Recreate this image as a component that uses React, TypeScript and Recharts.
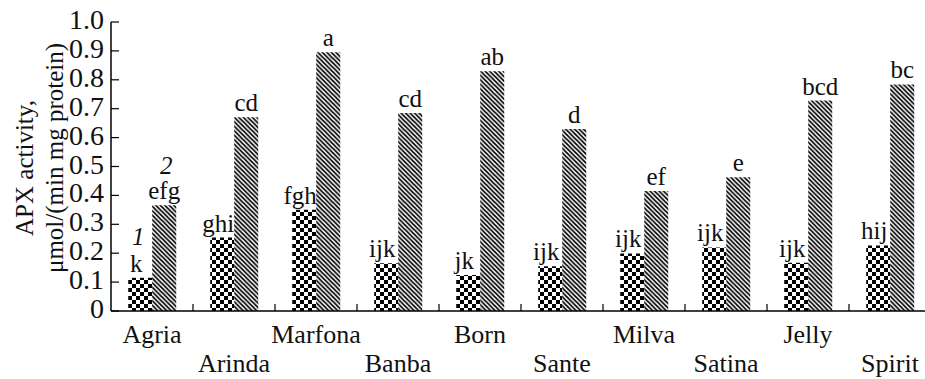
import React from "react";
import { BarChart, Bar, XAxis, YAxis, LabelList, Label } from "recharts";

const cultivars = [
  "Agria",
  "Arinda",
  "Marfona",
  "Banba",
  "Born",
  "Sante",
  "Milva",
  "Satina",
  "Jelly",
  "Spirit",
];
const series1 = [0.115, 0.254, 0.35, 0.165, 0.125, 0.155, 0.199, 0.22, 0.167, 0.227];
const series2 = [0.366, 0.67, 0.895, 0.685, 0.83, 0.63, 0.415, 0.463, 0.728, 0.784];
const letters1 = ["k", "ghi", "fgh", "ijk", "jk", "ijk", "ijk", "ijk", "ijk", "hij"];
const letters2 = ["efg", "cd", "a", "cd", "ab", "d", "ef", "e", "bcd", "bc"];
const yTicks = [0, 0.1, 0.2, 0.3, 0.4, 0.5, 0.6, 0.7, 0.8, 0.9, 1.0];

const data = cultivars.map((name, i) => ({
  name,
  s1: series1[i],
  s2: series2[i],
}));

const W = 931;
const H = 379;
const AXIS_W = 111;
const TOP = 22;
const X_H = 68;
const BAND = (W - AXIS_W) / cultivars.length;
const SERIF = { fontFamily: "Liberation Serif, Times New Roman, Tinos, DejaVu Serif, serif" };

function XTick(props: any) {
  const { x, y, payload, index } = props;
  const row = index % 2 === 0 ? 32 : 61;
  return (
    <g>
      <line x1={x + BAND / 2} y1={y} x2={x + BAND / 2} y2={y - 7} stroke="#000" strokeWidth={1.2} />
      <text x={x} y={y + row} textAnchor="middle" style={SERIF} fontSize={26} fill="#111">
        {payload.value}
      </text>
    </g>
  );
}

function YTick(props: any) {
  const { x, y, payload } = props;
  const v = payload.value;
  return (
    <g>
      <line x1={x} y1={y} x2={x + 8} y2={y} stroke="#000" strokeWidth={1.2} />
      <text x={x - 7} y={y + 7} textAnchor="end" style={SERIF} fontSize={28} fill="#111">
        {v === 0 ? "0" : v.toFixed(1)}
      </text>
    </g>
  );
}

function YLabel() {
  return (
    <g fill="#111">
      <text x={24} y={168} transform="rotate(-90 24 168)" textAnchor="middle" dominantBaseline="central" style={SERIF} fontSize={25}>
        APX activity,
      </text>
      <text x={54} y={158} transform="rotate(-90 54 158)" textAnchor="middle" dominantBaseline="central" style={SERIF} fontSize={25}>
        μmol/(min mg protein)
      </text>
    </g>
  );
}

function makeLetter(letters: string[], dx: number, tag: string, tagDy: number) {
  return (props: any) => {
    const { x, y, width, index } = props;
    const cx = x + width / 2 + dx;
    return (
      <g fill="#111">
        <text x={cx} y={y - 6} textAnchor="middle" style={SERIF} fontSize={25}>
          {letters[index]}
        </text>
        {index === 0 && (
          <text x={cx + 2} y={y - 6 - tagDy} textAnchor="middle" style={{ ...SERIF, fontStyle: "italic" }} fontSize={25}>
            {tag}
          </text>
        )}
      </g>
    );
  };
}

export default function App() {
  return (
    <div style={{ position: "absolute", left: 0, top: 0, width: 925, height: H, overflow: "hidden", background: "#fff" }}>
      <BarChart
        width={W}
        height={H}
        data={data}
        margin={{ top: TOP, right: 0, left: 0, bottom: 0 }}
        barGap={0}
        barCategoryGap="21%"
      >
        <defs>
          <pattern id="checker" width={8} height={8} patternUnits="userSpaceOnUse">
            <rect width={8} height={8} fill="#fff" />
            <rect x={0} y={0} width={4} height={4} fill="#000" />
            <rect x={4} y={4} width={4} height={4} fill="#000" />
          </pattern>
          <pattern id="hatch" width={4.5} height={4.5} patternUnits="userSpaceOnUse">
            <rect width={4.5} height={4.5} fill="#fff" />
            <path d="M-1,-1 L5.5,5.5 M-1,3.5 L1,5.5 M3.5,-1 L5.5,1" stroke="#000" strokeWidth={1.7} />
          </pattern>
        </defs>
        <XAxis
          dataKey="name"
          interval={0}
          height={X_H}
          tickSize={0}
          tickMargin={0}
          tickLine={false}
          axisLine={{ stroke: "#000", strokeWidth: 1.5 }}
          tick={<XTick />}
        />
        <YAxis
          domain={[0, 1]}
          ticks={yTicks}
          width={AXIS_W}
          tickSize={0}
          tickMargin={0}
          tickLine={false}
          axisLine={{ stroke: "#000", strokeWidth: 1.5 }}
          tick={<YTick />}
        >
          <Label content={<YLabel />} />
        </YAxis>
        <Bar dataKey="s1" fill="url(#checker)" isAnimationActive={false}>
          <LabelList dataKey="s1" content={makeLetter(letters1, -4, "1", 27)} />
        </Bar>
        <Bar dataKey="s2" fill="url(#hatch)" isAnimationActive={false}>
          <LabelList dataKey="s2" content={makeLetter(letters2, 0, "2", 25)} />
        </Bar>
      </BarChart>
    </div>
  );
}
